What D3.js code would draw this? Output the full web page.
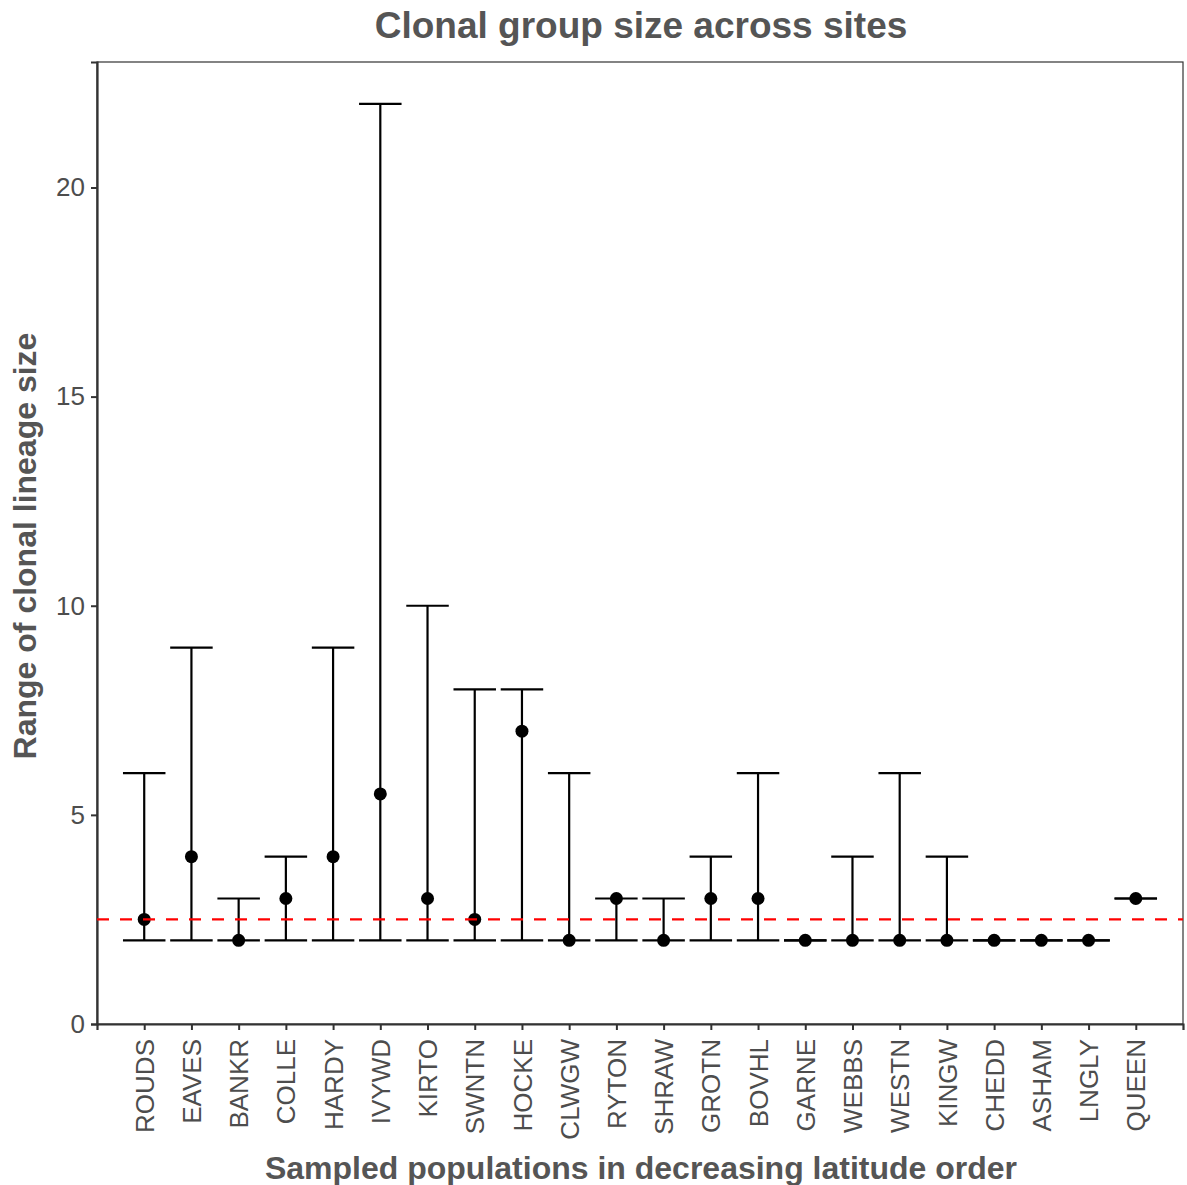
<!DOCTYPE html>
<html>
<head>
<meta charset="utf-8">
<script src="https://cdn.jsdelivr.net/npm/d3@7"></script>
<style>
  body { margin: 0; background: #fff; }
  text { font-family: "Liberation Sans", Arial, sans-serif; }
</style>
</head>
<body>
<div id="chart"></div>
<script>
// populations, north to south
var sites = ["ROUDS", "EAVES", "BANKR", "COLLE", "HARDY", "IVYWD", "KIRTO", "SWNTN", "HOCKE", "CLWGW", "RYTON",
             "SHRAW", "GROTN", "BOVHL", "GARNE", "WEBBS", "WESTN", "KINGW", "CHEDD", "ASHAM", "LNGLY", "QUEEN"];
var minSize = [2, 2, 2, 2, 2, 2, 2, 2, 2, 2, 2, 2, 2, 2, 2, 2, 2, 2, 2, 2, 2, 3];
var maxSize = [6, 9, 3, 4, 9, 22, 10, 8, 8, 6, 3, 3, 4, 6, 2, 4, 6, 4, 2, 2, 2, 3];
var medSize = [2.5, 4, 2, 3, 4, 5.5, 3, 2.5, 7, 2, 3, 2, 3, 3, 2, 2, 2, 2, 2, 2, 2, 3];
var refLine = 2.5;
var yTicks = [0, 5, 10, 15, 20];

var width = 1187, height = 1185;
var margin = {top: 62, right: 4, bottom: 161, left: 97};

var data = sites.map(function (s, i) {
    return {site: s, lo: minSize[i], hi: maxSize[i], med: medSize[i]};
});

var svg = d3.select('#chart').append('svg')
    .attr('width', width)
    .attr('height', height);

var x = d3.scalePoint()
    .domain(sites)
    .range([margin.left, width - margin.right])
    .padding(1);

var y = d3.scaleLinear()
    .domain([0, 23])
    .range([height - margin.bottom, margin.top]);

var capW = x.step() * 0.9;

// panel border
svg.append('rect')
    .attr('x', margin.left)
    .attr('y', margin.top)
    .attr('width', width - margin.right - margin.left)
    .attr('height', height - margin.bottom - margin.top)
    .attr('fill', 'none')
    .attr('stroke', '#333')
    .attr('stroke-width', 1.2);

// axes
var yAxis = svg.append('g')
    .attr('transform', 'translate(' + margin.left + ',0)')
    .call(d3.axisLeft(y).tickValues(yTicks).tickSize(6).tickPadding(6));
var xAxis = svg.append('g')
    .attr('transform', 'translate(0,' + (height - margin.bottom) + ')')
    .call(d3.axisBottom(x).tickSize(6));

[yAxis, xAxis].forEach(function (g) {
    g.select('.domain').attr('stroke', '#333').attr('stroke-width', 2.2);
    g.selectAll('.tick line').attr('stroke', '#333').attr('stroke-width', 2);
    g.selectAll('.tick text').attr('fill', '#4d4d4d').style('font-size', '26px');
});

xAxis.selectAll('.tick text')
    .attr('text-anchor', 'end')
    .attr('x', 0)
    .attr('y', 0)
    .attr('dx', 0)
    .attr('dy', '0.35em')
    .attr('transform', 'translate(0,15) rotate(-90)');

// error bars
var bars = svg.append('g').selectAll('g')
    .data(data)
    .join('g');

bars.append('line')
    .attr('x1', d => x(d.site)).attr('x2', d => x(d.site))
    .attr('y1', d => y(d.lo)).attr('y2', d => y(d.hi))
    .attr('stroke', '#000').attr('stroke-width', 2.2);

bars.append('line')
    .attr('x1', d => x(d.site) - capW / 2).attr('x2', d => x(d.site) + capW / 2)
    .attr('y1', d => y(d.hi)).attr('y2', d => y(d.hi))
    .attr('stroke', '#000').attr('stroke-width', 2.2);

bars.append('line')
    .attr('x1', d => x(d.site) - capW / 2).attr('x2', d => x(d.site) + capW / 2)
    .attr('y1', d => y(d.lo)).attr('y2', d => y(d.lo))
    .attr('stroke', '#000').attr('stroke-width', 2.2);

// reference line
svg.append('line')
    .attr('x1', margin.left).attr('x2', width - margin.right)
    .attr('y1', y(refLine)).attr('y2', y(refLine))
    .attr('stroke', '#ff0000')
    .attr('stroke-width', 2.2)
    .attr('stroke-dasharray', '12,11');

bars.append('circle')
    .attr('cx', d => x(d.site))
    .attr('cy', d => y(d.med))
    .attr('r', 6.5)
    .attr('fill', '#000');

// titles
svg.append('text')
    .attr('x', 641).attr('y', 38)
    .attr('text-anchor', 'middle')
    .attr('fill', '#555')
    .style('font-size', '37px').style('font-weight', 'bold')
    .text('Clonal group size across sites');

svg.append('text')
    .attr('x', 641).attr('y', 1179)
    .attr('text-anchor', 'middle')
    .attr('fill', '#555')
    .style('font-size', '32px').style('font-weight', 'bold')
    .text('Sampled populations in decreasing latitude order');

svg.append('text')
    .attr('transform', 'translate(36,' + ((margin.top + height - margin.bottom) / 2 + 3) + ') rotate(-90)')
    .attr('text-anchor', 'middle')
    .attr('fill', '#555')
    .style('font-size', '32px').style('font-weight', 'bold')
    .text('Range of clonal lineage size');
</script>
</body>
</html>
